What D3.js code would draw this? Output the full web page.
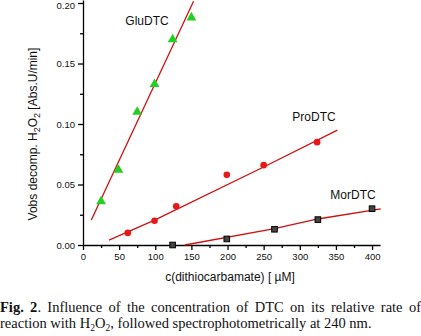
<!DOCTYPE html>
<html>
<head>
<meta charset="utf-8">
<script src="https://cdn.jsdelivr.net/npm/d3@7"></script>
<style>
  body { margin: 0; background: #fff; }
  #wrap { position: relative; width: 421px; height: 336px; overflow: hidden; }
  .cap {
    position: absolute; left: 0; width: 421px; white-space: nowrap;
    font-family: "Liberation Serif", "Times New Roman", serif;
    font-size: 14.5px; line-height: 16px; color: #111;
  }
  #cap1 { top: 299px; text-align: justify; text-align-last: justify; white-space: normal; }
  #cap2 { top: 315px; }
  .sb { font-size: 9.5px; position: relative; top: 3px; }
</style>
</head>
<body>
<div id="wrap">
  <div id="chart"></div>
  <div class="cap" id="cap1"><b>Fig. 2</b>. Influence of the concentration of DTC on its relative rate of</div>
  <div class="cap" id="cap2">reaction with H<span class="sb">2</span>O<span class="sb">2</span>, followed spectrophotometrically at 240 nm.</div>
</div>
<script>
// values (x in uM, y in Abs.U/min)
const gluX = [25, 49, 75, 99, 124, 150]
const gluY = [0.036, 0.062, 0.110, 0.133, 0.170, 0.188]
const proX = [62, 99, 129, 199, 250, 324]
const proY = [0.010, 0.020, 0.032, 0.058, 0.066, 0.085]
const morX = [124, 199, 265, 325, 400]
const morY = [0.000, 0.005, 0.013, 0.021, 0.030]

// fitted lines drawn in the figure
const gluFit = [[11.5, 0.0207], [153, 0.2015]]
const proFit = [[36, 0.004], [99, 0.0205], [250, 0.0645], [352, 0.095]]
const morFit = [[141, 0.0], [265, 0.0135], [325, 0.0215], [412, 0.0298]]

const xTicks = [0, 50, 100, 150, 200, 250, 300, 350, 400]
const xMinor = [25, 75, 125, 175, 225, 275, 325, 375]
const yTicks = [0.00, 0.05, 0.10, 0.15, 0.20]
const yMinor = [0.025, 0.075, 0.125, 0.175]

const W = 421, H = 292
const svg = d3.select("#chart").append("svg")
  .attr("width", W).attr("height", H)
  .style("display", "block")

const x = d3.scaleLinear().domain([0, 411]).range([83, 380])
const y = d3.scaleLinear().domain([0, 0.2025]).range([245, 0])

const font = "'Liberation Sans', Arial, sans-serif"

// x axis
const xAxis = svg.append("g").attr("transform", `translate(0,${y(0)})`)
xAxis.call(d3.axisBottom(x).tickValues(xTicks).tickSize(5).tickPadding(3)
  .tickSizeOuter(0).tickFormat(d3.format("d")))
xAxis.append("g").call(d3.axisBottom(x).tickValues(xMinor).tickSize(3)
  .tickFormat("").tickSizeOuter(0)).select(".domain").remove()
xAxis.selectAll("text").style("font-family", font).style("font-size", "9.5px").attr("fill", "#111")
xAxis.selectAll("line,path").attr("stroke", "#000").attr("stroke-width", 1.3)

// y axis
const yAxis = svg.append("g").attr("transform", `translate(${x(0)},0)`)
yAxis.call(d3.axisLeft(y).tickValues(yTicks).tickSize(5).tickPadding(3)
  .tickSizeOuter(0).tickFormat(d3.format(".2f")))
yAxis.append("g").call(d3.axisLeft(y).tickValues(yMinor).tickSize(3)
  .tickFormat("").tickSizeOuter(0)).select(".domain").remove()
yAxis.selectAll("text").style("font-family", font).style("font-size", "9.5px").attr("fill", "#111")
yAxis.selectAll(".tick text").filter(d => d === 0.20).attr("dy", "0.55em")
yAxis.selectAll("line,path").attr("stroke", "#000").attr("stroke-width", 1.3)

// axis titles
svg.append("text")
  .attr("x", 230).attr("y", 281)
  .attr("text-anchor", "middle")
  .style("font-family", font).style("font-size", "12px").attr("fill", "#111")
  .text("c(dithiocarbamate) [ \u00b5M]")

const yt = svg.append("text")
  .attr("transform", "translate(37,134) rotate(-90)")
  .attr("text-anchor", "middle")
  .style("font-family", font).style("font-size", "12px").attr("fill", "#111")
yt.append("tspan").text("Vobs decomp. H")
yt.append("tspan").attr("dy", 3).style("font-size", "9px").text("2")
yt.append("tspan").attr("dy", -3).text("O")
yt.append("tspan").attr("dy", 3).style("font-size", "9px").text("2")
yt.append("tspan").attr("dy", -3).text(" [Abs.U/min]")

// fit lines
const line = d3.line().x(d => x(d[0])).y(d => y(d[1]))
;[gluFit, proFit, morFit].forEach(f => {
  svg.append("path").datum(f).attr("d", line)
    .attr("fill", "none").attr("stroke", "#d01010").attr("stroke-width", 1.3)
})

// markers
svg.append("g").selectAll("path")
  .data(gluX.map((v, i) => [v, gluY[i]])).join("path")
  .attr("d", d3.symbol(d3.symbolTriangle, 42))
  .attr("transform", d => `translate(${x(d[0])},${y(d[1])})`)
  .attr("fill", "#22d022")

svg.append("g").selectAll("circle")
  .data(proX.map((v, i) => [v, proY[i]])).join("circle")
  .attr("cx", d => x(d[0])).attr("cy", d => y(d[1])).attr("r", 3.3)
  .attr("fill", "#e81818")

svg.append("g").selectAll("rect")
  .data(morX.map((v, i) => [v, morY[i]])).join("rect")
  .attr("x", d => x(d[0]) - 2.8).attr("y", d => y(d[1]) - 2.8)
  .attr("width", 5.6).attr("height", 5.6)
  .attr("fill", "#444").attr("stroke", "#000").attr("stroke-width", 1)

// series labels
const labels = [["GluDTC", 147, 25], ["ProDTC", 314, 121], ["MorDTC", 353, 199]]
svg.append("g").selectAll("text").data(labels).join("text")
  .attr("x", d => d[1]).attr("y", d => d[2])
  .attr("text-anchor", "middle")
  .style("font-family", font).style("font-size", "12px").attr("fill", "#111")
  .text(d => d[0])
</script>
</body>
</html>
